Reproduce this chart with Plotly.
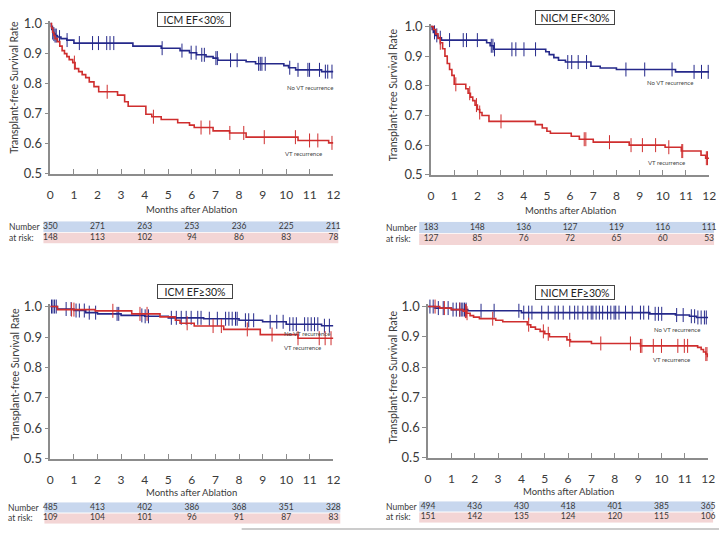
import plotly.graph_objects as go

# Kaplan-Meier steps (months, survival)
icm_lo_novt_t = [0, 0.03, 0.06, 0.1, 0.15, 0.2, 0.3, 0.45, 0.7, 1.0, 3.5, 4.7, 5.5, 5.9, 6.2, 6.6, 6.9, 7.1, 8.3, 8.7, 9.9, 10.1, 10.4, 11.5, 12]
icm_lo_novt_s = [1.0, 0.99, 0.98, 0.97, 0.965, 0.96, 0.955, 0.95, 0.945, 0.935, 0.925, 0.918, 0.91, 0.903, 0.896, 0.89, 0.885, 0.878, 0.873, 0.866, 0.86, 0.853, 0.846, 0.84, 0.84]
icm_lo_novt_c = [0.1, 0.15, 0.2, 0.25, 0.39, 0.71, 1.23, 1.79, 2.04, 2.39, 2.53, 2.69, 4.74, 5.58, 5.97, 6.18, 6.42, 6.53, 7.02, 7.08, 7.64, 7.92, 8.83, 8.9, 8.97, 9.11, 10.15, 10.5, 10.92, 10.99, 11.41, 11.66, 11.76, 11.94]
icm_lo_vt_t = [0, 0.05, 0.1, 0.15, 0.2, 0.3, 0.4, 0.5, 0.6, 0.7, 0.8, 0.95, 1.05, 1.2, 1.35, 1.5, 1.65, 1.85, 2.05, 2.85, 3.15, 3.3, 4.05, 4.3, 4.7, 5.4, 5.9, 6.1, 6.9, 7.6, 8.3, 10.5, 11.8, 12]
icm_lo_vt_s = [1.0, 0.985, 0.97, 0.96, 0.95, 0.94, 0.925, 0.91, 0.9, 0.89, 0.88, 0.87, 0.85, 0.84, 0.83, 0.82, 0.806, 0.79, 0.773, 0.762, 0.74, 0.725, 0.698, 0.69, 0.681, 0.67, 0.662, 0.654, 0.643, 0.636, 0.622, 0.611, 0.603, 0.603]
icm_lo_vt_c = [1.02, 2.41, 4.37, 6.39, 6.76, 7.61, 8.2, 9.07, 10.39, 10.99, 11.34, 11.94]

nicm_lo_novt_t = [0, 0.05, 0.1, 0.2, 0.3, 0.45, 2.4, 2.55, 2.7, 4.95, 5.1, 5.3, 5.5, 5.8, 6.9, 7.3, 8.0, 10.55, 12]
nicm_lo_novt_s = [1.0, 0.99, 0.98, 0.97, 0.962, 0.954, 0.945, 0.935, 0.923, 0.915, 0.905, 0.895, 0.886, 0.88, 0.866, 0.86, 0.855, 0.847, 0.847]
nicm_lo_novt_c = [0.15, 0.25, 0.4, 0.8, 1.39, 1.53, 2.0, 2.6, 2.67, 2.74, 3.49, 3.66, 4.01, 4.51, 5.9, 6.07, 6.35, 6.71, 8.41, 9.22, 10.4, 11.35, 11.67, 11.96]
nicm_lo_vt_t = [0, 0.1, 0.2, 0.3, 0.4, 0.5, 0.6, 0.7, 0.8, 0.9, 1.0, 1.5, 1.6, 1.7, 1.8, 1.9, 2.0, 2.1, 2.2, 2.5, 4.5, 4.8, 5.0, 5.15, 6.05, 6.4, 7.0, 8.55, 10.1, 10.8, 11.65, 11.85, 12]
nicm_lo_vt_s = [1.0, 0.99, 0.975, 0.96, 0.945, 0.925, 0.9, 0.875, 0.855, 0.835, 0.805, 0.79, 0.775, 0.762, 0.75, 0.735, 0.72, 0.71, 0.7, 0.68, 0.669, 0.658, 0.647, 0.64, 0.63, 0.62, 0.61, 0.6, 0.593, 0.58, 0.566, 0.556, 0.556]
nicm_lo_vt_c = [0.4, 1.07, 1.67, 1.96, 2.1, 3.02, 6.61, 6.68, 7.7, 8.63, 9.12, 9.69, 10.26, 10.82, 10.86, 11.88, 11.93]

icm_hi_novt_t = [0, 0.3, 1.0, 1.5, 2.0, 3.0, 4.0, 5.0, 6.5, 8.0, 9.0, 10.0, 11.5, 12]
icm_hi_novt_s = [1.0, 0.992, 0.987, 0.98, 0.976, 0.971, 0.968, 0.963, 0.96, 0.955, 0.95, 0.942, 0.937, 0.937]
icm_hi_novt_c = [0.05, 0.11, 0.18, 0.25, 0.67, 0.88, 1.09, 1.23, 1.44, 1.65, 1.92, 2.83, 2.9, 3.88, 4.02, 4.16, 5.13, 5.34, 5.55, 5.76, 5.97, 6.25, 6.39, 6.74, 7.08, 7.43, 7.57, 7.71, 7.85, 7.92, 8.27, 8.41, 8.62, 9.32, 9.6, 9.87, 10.15, 10.29, 10.43, 10.78, 10.92, 11.06, 11.2, 11.34, 11.62, 11.83]
icm_hi_vt_t = [0, 0.3, 1.9, 3.45, 4.65, 5.3, 5.5, 6.1, 7.35, 8.9, 10.5, 12]
icm_hi_vt_s = [1.0, 0.99, 0.986, 0.976, 0.966, 0.955, 0.945, 0.936, 0.925, 0.908, 0.896, 0.896]
icm_hi_vt_c = [0.9, 1.0, 2.65, 3.8, 4.1, 5.8, 6.9, 7.25, 8.35, 9.4, 10.5, 11.4, 11.65, 11.9]

nicm_hi_novt_t = [0, 0.3, 1.0, 1.7, 4.0, 9.5, 10.6, 11.2, 11.5, 12]
nicm_hi_novt_s = [1.0, 0.995, 0.99, 0.986, 0.98, 0.976, 0.972, 0.968, 0.964, 0.964]
nicm_hi_novt_c = [0.08, 0.22, 0.44, 0.65, 0.86, 1.07, 1.21, 1.35, 1.42, 1.49, 1.56, 1.63, 2.27, 2.83, 3.89, 4.1, 4.31, 4.45, 4.87, 5.15, 5.44, 5.58, 5.79, 6.07, 6.28, 6.42, 6.63, 6.84, 6.99, 7.06, 7.2, 7.34, 7.48, 7.69, 7.83, 7.97, 8.04, 8.18, 8.46, 8.75, 9.1, 9.24, 9.45, 9.73, 9.87, 10.01, 10.65, 10.93, 11.28, 11.42, 11.56, 11.7, 11.84, 11.92]
nicm_hi_vt_t = [0, 0.5, 1.0, 1.5, 1.65, 1.8, 1.95, 2.2, 2.9, 3.2, 4.25, 4.4, 4.6, 4.8, 5.0, 5.2, 5.95, 6.1, 7.0, 9.1, 11.55, 11.7, 11.8, 11.9, 11.97, 12]
nicm_hi_vt_s = [1.0, 0.995, 0.99, 0.985, 0.978, 0.97, 0.965, 0.96, 0.955, 0.95, 0.94, 0.932, 0.925, 0.918, 0.91, 0.9, 0.89, 0.884, 0.878, 0.87, 0.865, 0.858, 0.85, 0.843, 0.835, 0.835]
nicm_hi_vt_c = [0.3, 0.7, 1.36, 1.6, 1.63, 1.67, 2.77, 4.31, 4.94, 5.15, 6.07, 7.4, 8.67, 9.1, 9.16, 9.65, 10.0, 10.7, 10.98, 11.12, 11.9, 11.95]

# number at risk
risk_months = [0, 2, 4, 6, 8, 10, 12]
icm_lo_risk_novt = [350, 271, 263, 253, 236, 225, 211]
icm_lo_risk_vt = [148, 113, 102, 94, 86, 83, 78]
nicm_lo_risk_novt = [183, 148, 136, 127, 119, 116, 111]
nicm_lo_risk_vt = [127, 85, 76, 72, 65, 60, 53]
icm_hi_risk_novt = [485, 413, 402, 386, 368, 351, 328]
icm_hi_risk_vt = [109, 104, 101, 96, 91, 87, 83]
nicm_hi_risk_novt = [494, 436, 430, 418, 401, 385, 365]
nicm_hi_risk_vt = [151, 142, 135, 124, 120, 115, 106]

panel_titles = ["ICM EF<30%", "NICM EF<30%", "ICM EF\u226530%", "NICM EF\u226530%"]
y_ticks = [0.5, 0.6, 0.7, 0.8, 0.9, 1.0]

W, H = 726, 540
FONT = "Lato"
BLUE = "#25298a"
RED = "#cf2e2e"
GREY = "#8c8c8c"
TXT = "#3a3a3a"


def fx(px):
    return px / W


def fy(py):
    return 1 - py / H


def surv_at(ts, ss, t):
    val = ss[0]
    for ti, si in zip(ts, ss):
        if ti <= t:
            val = si
    return val


def label(text, x, y, size, **kw):
    # centred annotation (auto anchors shift paper-placed text near the edges)
    d = dict(text=text, x=x, y=y, showarrow=False, xanchor="center", yanchor="middle",
             font=dict(family=FONT, size=size, color=kw.pop("color", TXT)))
    d.setdefault("xref", "paper")
    d.setdefault("yref", "paper")
    d.update(kw)
    return d


panels = [
    dict(novt=(icm_lo_novt_t, icm_lo_novt_s, icm_lo_novt_c), vt=(icm_lo_vt_t, icm_lo_vt_s, icm_lo_vt_c),
         risk=(icm_lo_risk_novt, icm_lo_risk_vt),
         x0=48, x12=335, y10=19, y05=173, tab=(221.5, 244.5), tabx=(41, 340), lab_x=4,
         title=(194, 15), box_w=70, ytitle=(11, 84), xtitle=210,
         lbl_novt=(11.0, 0.786), lbl_vt=(10.75, 0.569)),
    dict(novt=(nicm_lo_novt_t, nicm_lo_novt_s, nicm_lo_novt_c), vt=(nicm_lo_vt_t, nicm_lo_vt_s, nicm_lo_vt_c),
         risk=(nicm_lo_risk_novt, nicm_lo_risk_vt),
         x0=434, x12=716, y10=22, y05=174, tab=(222, 246), tabx=(422, 721), lab_x=386,
         title=(580, 13), box_w=76, ytitle=(395, 92), xtitle=211,
         lbl_novt=(10.3, 0.81), lbl_vt=(10.17, 0.543)),
    dict(novt=(icm_hi_novt_t, icm_hi_novt_s, icm_hi_novt_c), vt=(icm_hi_vt_t, icm_hi_vt_s, icm_hi_vt_c),
         risk=(icm_hi_risk_novt, icm_hi_risk_vt),
         x0=48, x12=335, y10=309, y05=465, tab=(509.5, 531.5), tabx=(42, 342), lab_x=3,
         title=(195, 294), box_w=72, ytitle=(12, 378), xtitle=500,
         lbl_novt=(10.88, 0.913), lbl_vt=(10.71, 0.865)),
    dict(novt=(nicm_hi_novt_t, nicm_hi_novt_s, nicm_hi_novt_c), vt=(nicm_hi_vt_t, nicm_hi_vt_s, nicm_hi_vt_c),
         risk=(nicm_hi_risk_novt, nicm_hi_risk_vt),
         x0=431, x12=715, y10=309, y05=464, tab=(508.5, 530.5), tabx=(422, 720), lab_x=386,
         title=(580, 295), box_w=76, ytitle=(395, 381), xtitle=499,
         lbl_novt=(10.65, 0.923), lbl_vt=(10.44, 0.826)),
]

fig = go.Figure()
layout = {}
shapes = []
annotations = []

for i, p in enumerate(panels, start=1):
    xa, ya = f"x{i}", f"y{i}"
    xt, yt = f"x{i + 4}", f"y{i + 4}"
    key = "" if i == 1 else str(i)

    # curves + censor ticks
    for (ts, ss, cs), col in [(p["novt"], BLUE), (p["vt"], RED)]:
        fig.add_trace(go.Scatter(x=ts, y=ss, mode="lines", line=dict(color=col, width=1.6, shape="hv"),
                                 xaxis=xa, yaxis=ya, showlegend=False, hoverinfo="skip"))
        fig.add_trace(go.Scatter(x=cs, y=[surv_at(ts, ss, c) for c in cs], mode="markers",
                                 marker=dict(symbol="line-ns", size=10, line=dict(color=col, width=1)),
                                 xaxis=xa, yaxis=ya, showlegend=False, cliponaxis=False, hoverinfo="skip"))

    # number at risk rows
    novt_r, vt_r = p["risk"]
    for vals, yv in [(novt_r, 1.5), (vt_r, 0.5)]:
        fig.add_trace(go.Scatter(x=risk_months, y=[yv] * len(vals), text=[str(v) for v in vals], mode="text",
                                 textfont=dict(family=FONT, size=8.5, color=TXT), xaxis=xt, yaxis=yt,
                                 showlegend=False, cliponaxis=False, hoverinfo="skip"))

    k = (p["y05"] - p["y10"]) / 0.5
    ytop = p["y10"] - 0.01 * k
    dom_x = [fx(p["x0"]), fx(p["x12"])]
    layout["xaxis" + key] = dict(domain=dom_x, range=[0, 12], anchor=ya, showline=True, linecolor=GREY,
                                 linewidth=1.5, ticks="inside", ticklen=5, tickwidth=1.2, tickcolor=GREY,
                                 tick0=0, dtick=1, showgrid=False, zeroline=False, ticklabelstandoff=9,
                                 tickfont=dict(family=FONT, size=12, color=TXT))
    layout["yaxis" + key] = dict(domain=[fy(p["y05"]), fy(ytop)], range=[0.5, 1.01], anchor=xa, showline=True,
                                 linecolor=GREY, linewidth=1.5, ticks="outside", ticklen=4, tickwidth=1.2,
                                 tickcolor=GREY, tickvals=y_ticks, ticktext=[f"{v:.1f}" for v in y_ticks],
                                 showgrid=False, zeroline=False, tickfont=dict(family=FONT, size=13, color=TXT))
    layout[f"xaxis{i + 4}"] = dict(domain=dom_x, range=[0, 12], matches=xa, anchor=yt, visible=False)
    layout[f"yaxis{i + 4}"] = dict(domain=[fy(p["tab"][1]), fy(p["tab"][0])], range=[0, 2], anchor=xt,
                                   visible=False)

    # table backgrounds
    span = p["x12"] - p["x0"]
    tx0 = (p["tabx"][0] - p["x0"]) / span
    tx1 = (p["tabx"][1] - p["x0"]) / span
    shapes.append(dict(type="rect", xref=f"{xt} domain", yref=yt, x0=tx0, x1=tx1, y0=1.04, y1=2,
                       fillcolor="#c8d7ee", line=dict(width=0), layer="below"))
    shapes.append(dict(type="rect", xref=f"{xt} domain", yref=yt, x0=tx0, x1=tx1, y0=0, y1=0.96,
                       fillcolor="#f3d5d5", line=dict(width=0), layer="below"))

    rows_mid = (p["tab"][0] + p["tab"][1]) / 2
    annotations.append(label("Number", fx(p["lab_x"]), fy((p["tab"][0] + rows_mid) / 2), 8.5,
                             xanchor="left"))
    annotations.append(label("at risk:", fx(p["lab_x"]), fy((rows_mid + p["tab"][1]) / 2), 8.5,
                             xanchor="left"))

    # panel title box
    annotations.append(label(panel_titles[i - 1], fx(p["title"][0]), fy(p["title"][1]), 10.5, color="#222",
                             bordercolor="#444", borderwidth=1, borderpad=1, bgcolor="white",
                             width=p["box_w"], height=11))
    # axis titles
    annotations.append(label("Transplant-free Survival Rate", fx(p["ytitle"][0]), fy(p["ytitle"][1]), 10.5,
                             textangle=-90))
    annotations.append(label("Months after Ablation", fx((p["x0"] + p["x12"]) / 2), fy(p["xtitle"]), 9.5))
    # curve labels
    annotations.append(label("No VT recurrence", p["lbl_novt"][0], p["lbl_novt"][1], 6, color="#444",
                             xref=xa, yref=ya))
    annotations.append(label("VT recurrence", p["lbl_vt"][0], p["lbl_vt"][1], 6, color="#444",
                             xref=xa, yref=ya))

# grey rule at bottom right
shapes.append(dict(type="line", xref="paper", yref="paper", x0=fx(242), x1=1, y0=fy(537), y1=fy(537),
                   line=dict(color="#bbbbbb", width=1.5)))

fig.update_layout(
    width=W, height=H,
    margin=dict(l=0, r=0, t=0, b=0),
    paper_bgcolor="white", plot_bgcolor="white",
    font=dict(family=FONT, color=TXT),
    showlegend=False,
    shapes=shapes,
    annotations=annotations,
    **layout
)

# drop the default page margin so the figure sits at the window's top-left corner
fig.write_html("out.html", config={"displayModeBar": False},
               post_script="document.body.style.margin='0';")
